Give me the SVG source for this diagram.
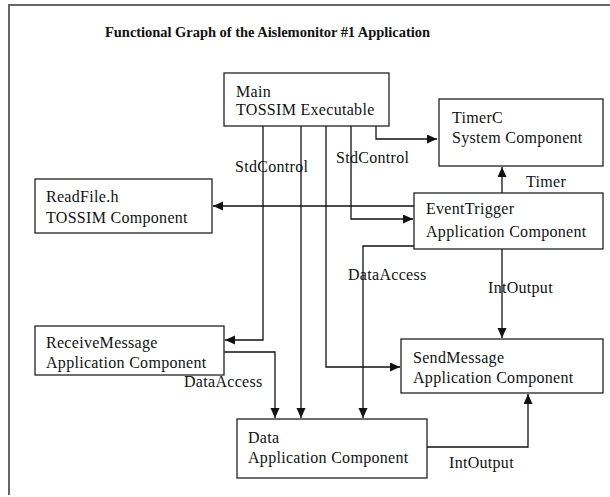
<svg xmlns="http://www.w3.org/2000/svg" width="610" height="497" viewBox="0 0 610 497">
<defs>
<style>
.box{fill:#fff;stroke:#222;stroke-width:1.3}
.t{font-family:"Liberation Serif","Times New Roman",serif;font-size:16px;letter-spacing:0.3px;fill:#111}
.title{font-family:"Liberation Serif","Times New Roman",serif;font-size:14.5px;font-weight:bold;fill:#111}
.c{fill:none;stroke:#111;stroke-width:1.3}
</style>
<marker id="ah" markerUnits="userSpaceOnUse" markerWidth="11" markerHeight="10" refX="10" refY="4.5" orient="auto">
<path d="M0,0 L10,4.5 L0,9 z" fill="#111"/>
</marker>
</defs>
<rect width="610" height="497" fill="#fff"/>
<path d="M9,495 V5 H610" fill="none" stroke="#666" stroke-width="2"/>
<text class="title" x="267.5" y="37" text-anchor="middle" textLength="325" lengthAdjust="spacing">Functional Graph of the Aislemonitor #1 Application</text>

<g id="connectors">
<path class="c" d="M376,126 V139 H437" marker-end="url(#ah)"/>
<path class="c" d="M351,126 V219 H413" marker-end="url(#ah)"/>
<path class="c" d="M263,126 V340 H225" marker-end="url(#ah)"/>
<path class="c" d="M301,126 V418" marker-end="url(#ah)"/>
<path class="c" d="M326,126 V367 H400" marker-end="url(#ah)"/>
<path class="c" d="M502,193 V167" marker-end="url(#ah)"/>
<path class="c" d="M414,206 H213" marker-end="url(#ah)"/>
<path class="c" d="M414,246 H363 V418" marker-end="url(#ah)"/>
<path class="c" d="M502,249 V338" marker-end="url(#ah)"/>
<path class="c" d="M224,352 H275 V418" marker-end="url(#ah)"/>
<path class="c" d="M427,447 H528 V394" marker-end="url(#ah)"/>
<text class="t" x="235" y="172">StdControl</text>
<text class="t" x="336" y="163">StdControl</text>
<text class="t" x="526" y="187">Timer</text>
<text class="t" x="348" y="280">DataAccess</text>
<text class="t" x="488" y="293">IntOutput</text>
<text class="t" x="184" y="387">DataAccess</text>
<text class="t" x="449" y="468">IntOutput</text>
</g>

<g id="main">
<rect class="box" x="224" y="73" width="165" height="53"/>
<text class="t" x="236" y="97">Main</text>
<text class="t" x="236" y="115">TOSSIM Executable</text>
</g>
<g id="timerc">
<rect class="box" x="439" y="99" width="164" height="67"/>
<text class="t" x="452" y="123">TimerC</text>
<text class="t" x="452" y="143">System Component</text>
</g>
<g id="readfile">
<rect class="box" x="35" y="179" width="177" height="54"/>
<text class="t" x="46" y="202">ReadFile.h</text>
<text class="t" x="46" y="223">TOSSIM Component</text>
</g>
<g id="eventtrigger">
<rect class="box" x="414" y="193" width="189" height="56"/>
<text class="t" x="426" y="214">EventTrigger</text>
<text class="t" x="426" y="237">Application Component</text>
</g>
<g id="receivemessage">
<rect class="box" x="35" y="326" width="189" height="49"/>
<text class="t" x="46" y="348">ReceiveMessage</text>
<text class="t" x="46" y="368">Application Component</text>
</g>
<g id="sendmessage">
<rect class="box" x="401" y="339" width="202" height="54"/>
<text class="t" x="413" y="363">SendMessage</text>
<text class="t" x="413" y="383">Application Component</text>
</g>
<g id="data">
<rect class="box" x="237" y="419" width="190" height="59"/>
<text class="t" x="248" y="443">Data</text>
<text class="t" x="248" y="463">Application Component</text>
</g>
</svg>
